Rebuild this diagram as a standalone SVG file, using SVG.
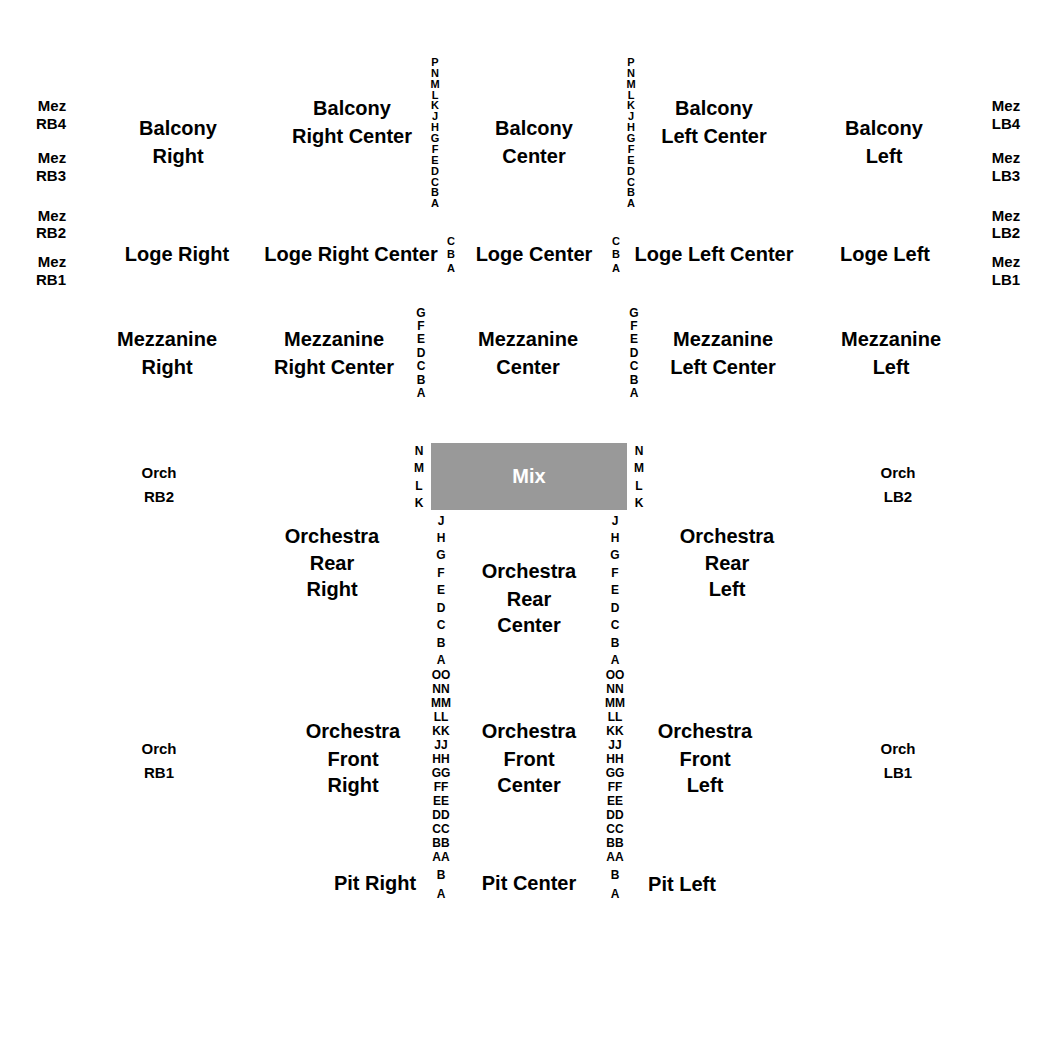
<svg xmlns="http://www.w3.org/2000/svg" width="1050" height="1050" viewBox="0 0 1050 1050">
<style>
text{font-family:"Liberation Sans",Arial,sans-serif;font-weight:bold;fill:#000;text-anchor:middle;dominant-baseline:central}
.big{font-size:20px}
.sm{font-size:15px}
.row{font-size:12px}
.brow{font-size:11px}
.mixlbl{fill:#fff;font-size:20px}
</style>
<rect width="1050" height="1050" fill="#fff"/>
<g id="mez-rb4"><text class="sm" x="52" y="105">Mez</text><text class="sm" x="51" y="123">RB4</text></g>
<g id="mez-rb3"><text class="sm" x="52" y="157">Mez</text><text class="sm" x="51" y="175">RB3</text></g>
<g id="mez-rb2"><text class="sm" x="52" y="215">Mez</text><text class="sm" x="51" y="232">RB2</text></g>
<g id="mez-rb1"><text class="sm" x="52" y="261">Mez</text><text class="sm" x="51" y="279">RB1</text></g>
<g id="mez-lb4"><text class="sm" x="1006" y="105">Mez</text><text class="sm" x="1006" y="123">LB4</text></g>
<g id="mez-lb3"><text class="sm" x="1006" y="157">Mez</text><text class="sm" x="1006" y="175">LB3</text></g>
<g id="mez-lb2"><text class="sm" x="1006" y="215">Mez</text><text class="sm" x="1006" y="232">LB2</text></g>
<g id="mez-lb1"><text class="sm" x="1006" y="261">Mez</text><text class="sm" x="1006" y="279">LB1</text></g>

<g id="balcony-right"><text class="big" x="178" y="128">Balcony</text><text class="big" x="178" y="156">Right</text></g>
<g id="balcony-right-center"><text class="big" x="352" y="108">Balcony</text><text class="big" x="352" y="136">Right Center</text></g>
<g id="balcony-center"><text class="big" x="534" y="128">Balcony</text><text class="big" x="534" y="156">Center</text></g>
<g id="balcony-left-center"><text class="big" x="714" y="108">Balcony</text><text class="big" x="714" y="136">Left Center</text></g>
<g id="balcony-left"><text class="big" x="884" y="128">Balcony</text><text class="big" x="884" y="156">Left</text></g>

<g id="balcony-rows-right" class="brow">
<text class="brow" x="435" y="62">P</text><text class="brow" x="435" y="73">N</text><text class="brow" x="435" y="84">M</text><text class="brow" x="435" y="95">L</text><text class="brow" x="435" y="105">K</text><text class="brow" x="435" y="116">J</text><text class="brow" x="435" y="127">H</text><text class="brow" x="435" y="138">G</text><text class="brow" x="435" y="149">F</text><text class="brow" x="435" y="160">E</text><text class="brow" x="435" y="171">D</text><text class="brow" x="435" y="182">C</text><text class="brow" x="435" y="192">B</text><text class="brow" x="435" y="203">A</text>
</g>
<g id="balcony-rows-left">
<text class="brow" x="631" y="62">P</text><text class="brow" x="631" y="73">N</text><text class="brow" x="631" y="84">M</text><text class="brow" x="631" y="95">L</text><text class="brow" x="631" y="105">K</text><text class="brow" x="631" y="116">J</text><text class="brow" x="631" y="127">H</text><text class="brow" x="631" y="138">G</text><text class="brow" x="631" y="149">F</text><text class="brow" x="631" y="160">E</text><text class="brow" x="631" y="171">D</text><text class="brow" x="631" y="182">C</text><text class="brow" x="631" y="192">B</text><text class="brow" x="631" y="203">A</text>
</g>

<g id="loge-right"><text class="big" x="177" y="254">Loge Right</text></g>
<g id="loge-right-center"><text class="big" x="351" y="254">Loge Right Center</text></g>
<g id="loge-center"><text class="big" x="534" y="254">Loge Center</text></g>
<g id="loge-left-center"><text class="big" x="714" y="254">Loge Left Center</text></g>
<g id="loge-left"><text class="big" x="885" y="254">Loge Left</text></g>
<g id="loge-rows-right"><text class="brow" x="451" y="241">C</text><text class="brow" x="451" y="254">B</text><text class="brow" x="451" y="268">A</text></g>
<g id="loge-rows-left"><text class="brow" x="616" y="241">C</text><text class="brow" x="616" y="254">B</text><text class="brow" x="616" y="268">A</text></g>

<g id="mezzanine-right"><text class="big" x="167" y="339">Mezzanine</text><text class="big" x="167" y="367">Right</text></g>
<g id="mezzanine-right-center"><text class="big" x="334" y="339">Mezzanine</text><text class="big" x="334" y="367">Right Center</text></g>
<g id="mezzanine-center"><text class="big" x="528" y="339">Mezzanine</text><text class="big" x="528" y="367">Center</text></g>
<g id="mezzanine-left-center"><text class="big" x="723" y="339">Mezzanine</text><text class="big" x="723" y="367">Left Center</text></g>
<g id="mezzanine-left"><text class="big" x="891" y="339">Mezzanine</text><text class="big" x="891" y="367">Left</text></g>
<g id="mezz-rows-right"><text class="row" x="421" y="313">G</text><text class="row" x="421" y="326">F</text><text class="row" x="421" y="339">E</text><text class="row" x="421" y="353">D</text><text class="row" x="421" y="366">C</text><text class="row" x="421" y="380">B</text><text class="row" x="421" y="393">A</text></g>
<g id="mezz-rows-left"><text class="row" x="634" y="313">G</text><text class="row" x="634" y="326">F</text><text class="row" x="634" y="339">E</text><text class="row" x="634" y="353">D</text><text class="row" x="634" y="366">C</text><text class="row" x="634" y="380">B</text><text class="row" x="634" y="393">A</text></g>

<g id="mix"><rect x="431" y="443" width="196" height="67" fill="#999999"/><text class="mixlbl" x="529" y="476">Mix</text></g>
<g id="mix-rows-right"><text class="row" x="419" y="451">N</text><text class="row" x="419" y="468">M</text><text class="row" x="419" y="486">L</text><text class="row" x="419" y="503">K</text></g>
<g id="mix-rows-left"><text class="row" x="639" y="451">N</text><text class="row" x="639" y="468">M</text><text class="row" x="639" y="486">L</text><text class="row" x="639" y="503">K</text></g>

<g id="orch-rb2"><text class="sm" x="159" y="472">Orch</text><text class="sm" x="159" y="496">RB2</text></g>
<g id="orch-lb2"><text class="sm" x="898" y="472">Orch</text><text class="sm" x="898" y="496">LB2</text></g>
<g id="orch-rb1"><text class="sm" x="159" y="748">Orch</text><text class="sm" x="159" y="772">RB1</text></g>
<g id="orch-lb1"><text class="sm" x="898" y="748">Orch</text><text class="sm" x="898" y="772">LB1</text></g>

<g id="orchestra-rear-right"><text class="big" x="332" y="536">Orchestra</text><text class="big" x="332" y="563">Rear</text><text class="big" x="332" y="589">Right</text></g>
<g id="orchestra-rear-center"><text class="big" x="529" y="571">Orchestra</text><text class="big" x="529" y="599">Rear</text><text class="big" x="529" y="625">Center</text></g>
<g id="orchestra-rear-left"><text class="big" x="727" y="536">Orchestra</text><text class="big" x="727" y="563">Rear</text><text class="big" x="727" y="589">Left</text></g>
<g id="orchestra-front-right"><text class="big" x="353" y="731">Orchestra</text><text class="big" x="353" y="759">Front</text><text class="big" x="353" y="785">Right</text></g>
<g id="orchestra-front-center"><text class="big" x="529" y="731">Orchestra</text><text class="big" x="529" y="759">Front</text><text class="big" x="529" y="785">Center</text></g>
<g id="orchestra-front-left"><text class="big" x="705" y="731">Orchestra</text><text class="big" x="705" y="759">Front</text><text class="big" x="705" y="785">Left</text></g>

<g id="orch-rows-right">
<text class="row" x="441" y="521">J</text><text class="row" x="441" y="538">H</text><text class="row" x="441" y="555">G</text><text class="row" x="441" y="573">F</text><text class="row" x="441" y="590">E</text><text class="row" x="441" y="608">D</text><text class="row" x="441" y="625">C</text><text class="row" x="441" y="643">B</text><text class="row" x="441" y="660">A</text>
<text class="row" x="441" y="675">OO</text><text class="row" x="441" y="689">NN</text><text class="row" x="441" y="703">MM</text><text class="row" x="441" y="717">LL</text><text class="row" x="441" y="731">KK</text><text class="row" x="441" y="745">JJ</text><text class="row" x="441" y="759">HH</text><text class="row" x="441" y="773">GG</text><text class="row" x="441" y="787">FF</text><text class="row" x="441" y="801">EE</text><text class="row" x="441" y="815">DD</text><text class="row" x="441" y="829">CC</text><text class="row" x="441" y="843">BB</text><text class="row" x="441" y="857">AA</text>
<text class="row" x="441" y="875">B</text><text class="row" x="441" y="894">A</text>
</g>
<g id="orch-rows-left">
<text class="row" x="615" y="521">J</text><text class="row" x="615" y="538">H</text><text class="row" x="615" y="555">G</text><text class="row" x="615" y="573">F</text><text class="row" x="615" y="590">E</text><text class="row" x="615" y="608">D</text><text class="row" x="615" y="625">C</text><text class="row" x="615" y="643">B</text><text class="row" x="615" y="660">A</text>
<text class="row" x="615" y="675">OO</text><text class="row" x="615" y="689">NN</text><text class="row" x="615" y="703">MM</text><text class="row" x="615" y="717">LL</text><text class="row" x="615" y="731">KK</text><text class="row" x="615" y="745">JJ</text><text class="row" x="615" y="759">HH</text><text class="row" x="615" y="773">GG</text><text class="row" x="615" y="787">FF</text><text class="row" x="615" y="801">EE</text><text class="row" x="615" y="815">DD</text><text class="row" x="615" y="829">CC</text><text class="row" x="615" y="843">BB</text><text class="row" x="615" y="857">AA</text>
<text class="row" x="615" y="875">B</text><text class="row" x="615" y="894">A</text>
</g>

<g id="pit-right"><text class="big" x="375" y="883">Pit Right</text></g>
<g id="pit-center"><text class="big" x="529" y="883">Pit Center</text></g>
<g id="pit-left"><text class="big" x="682" y="884">Pit Left</text></g>
<g id="connectors"></g>
</svg>
